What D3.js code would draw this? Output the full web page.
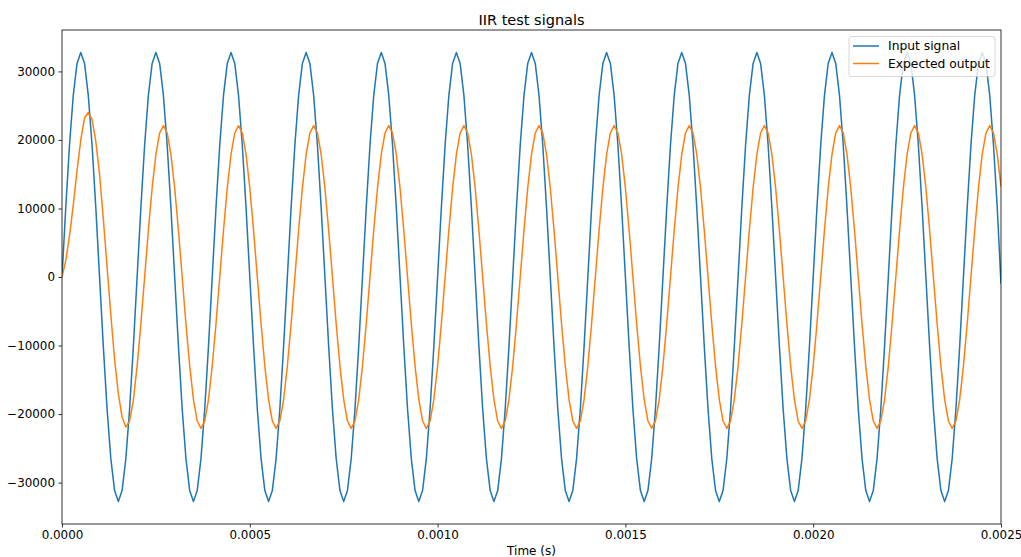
<!DOCTYPE html>
<html>
<head>
<meta charset="utf-8">
<script src="https://cdn.jsdelivr.net/npm/d3@7"></script>
<style>
  body { margin: 0; background: #fff; }
  text { font-family: "DejaVu Sans", sans-serif; }
</style>
</head>
<body>
<div id="chart"></div>
<script>
// Sample rate of the test signals (Hz), sample k is at time k / sampleRate
const sampleRate = 100000;

// Input signal samples, one row per 0.0002 s period
const inputSignal = [
    0, 10126, 19260, 26509, 31163, 32767, 31163, 26509, 19260, 10126, 0, -10126, -19260, -26509, -31163, -32767, -31163, -26509, -19260, -10126,
    0, 10126, 19260, 26509, 31163, 32767, 31163, 26509, 19260, 10126, 0, -10126, -19260, -26509, -31163, -32767, -31163, -26509, -19260, -10126,
    0, 10126, 19260, 26509, 31163, 32767, 31163, 26509, 19260, 10126, 0, -10126, -19260, -26509, -31163, -32767, -31163, -26509, -19260, -10126,
    0, 10126, 19260, 26509, 31163, 32767, 31163, 26509, 19260, 10126, 0, -10126, -19260, -26509, -31163, -32767, -31163, -26509, -19260, -10126,
    0, 10126, 19260, 26509, 31163, 32767, 31163, 26509, 19260, 10126, 0, -10126, -19260, -26509, -31163, -32767, -31163, -26509, -19260, -10126,
    0, 10126, 19260, 26509, 31163, 32767, 31163, 26509, 19260, 10126, 0, -10126, -19260, -26509, -31163, -32767, -31163, -26509, -19260, -10126,
    0, 10126, 19260, 26509, 31163, 32767, 31163, 26509, 19260, 10126, 0, -10126, -19260, -26509, -31163, -32767, -31163, -26509, -19260, -10126,
    0, 10126, 19260, 26509, 31163, 32767, 31163, 26509, 19260, 10126, 0, -10126, -19260, -26509, -31163, -32767, -31163, -26509, -19260, -10126,
    0, 10126, 19260, 26509, 31163, 32767, 31163, 26509, 19260, 10126, 0, -10126, -19260, -26509, -31163, -32767, -31163, -26509, -19260, -10126,
    0, 10126, 19260, 26509, 31163, 32767, 31163, 26509, 19260, 10126, 0, -10126, -19260, -26509, -31163, -32767, -31163, -26509, -19260, -10126,
    0, 10126, 19260, 26509, 31163, 32767, 31163, 26509, 19260, 10126, 0, -10126, -19260, -26509, -31163, -32767, -31163, -26509, -19260, -10126,
    0, 10126, 19260, 26509, 31163, 32767, 31163, 26509, 19260, 10126, 0, -10126, -19260, -26509, -31163, -32767, -31163, -26509, -19260, -10126,
    0, 10126, 19260, 26509, 31163, 32767, 31163, 26509, 19260, 10126, -1000
];

// Expected filter output, first period has the start-up transient
const expectedOutput = [
    0, 2400, 6000, 10500, 15500, 20000, 23200, 24000, 23000, 19800, 15000, 8500, 1500, -5500, -12000, -17000, -20500, -21900, -21000, -18000,
    -12995, -6829, 0, 6829, 12995, 17879, 21017, 22100, 21017, 17879, 12995, 6829, 0, -6829, -12995, -17879, -21017, -22100, -21017, -17879,
    -12995, -6829, 0, 6829, 12995, 17879, 21017, 22100, 21017, 17879, 12995, 6829, 0, -6829, -12995, -17879, -21017, -22100, -21017, -17879,
    -12995, -6829, 0, 6829, 12995, 17879, 21017, 22100, 21017, 17879, 12995, 6829, 0, -6829, -12995, -17879, -21017, -22100, -21017, -17879,
    -12995, -6829, 0, 6829, 12995, 17879, 21017, 22100, 21017, 17879, 12995, 6829, 0, -6829, -12995, -17879, -21017, -22100, -21017, -17879,
    -12995, -6829, 0, 6829, 12995, 17879, 21017, 22100, 21017, 17879, 12995, 6829, 0, -6829, -12995, -17879, -21017, -22100, -21017, -17879,
    -12995, -6829, 0, 6829, 12995, 17879, 21017, 22100, 21017, 17879, 12995, 6829, 0, -6829, -12995, -17879, -21017, -22100, -21017, -17879,
    -12995, -6829, 0, 6829, 12995, 17879, 21017, 22100, 21017, 17879, 12995, 6829, 0, -6829, -12995, -17879, -21017, -22100, -21017, -17879,
    -12995, -6829, 0, 6829, 12995, 17879, 21017, 22100, 21017, 17879, 12995, 6829, 0, -6829, -12995, -17879, -21017, -22100, -21017, -17879,
    -12995, -6829, 0, 6829, 12995, 17879, 21017, 22100, 21017, 17879, 12995, 6829, 0, -6829, -12995, -17879, -21017, -22100, -21017, -17879,
    -12995, -6829, 0, 6829, 12995, 17879, 21017, 22100, 21017, 17879, 12995, 6829, 0, -6829, -12995, -17879, -21017, -22100, -21017, -17879,
    -12995, -6829, 0, 6829, 12995, 17879, 21017, 22100, 21017, 17879, 12995, 6829, 0, -6829, -12995, -17879, -21017, -22100, -21017, -17879,
    -12995, -6829, 0, 6829, 12995, 17879, 21017, 22100, 21017, 17879, 13200
];

// Axis ticks and labels
const xTicks = [0, 0.0005, 0.0010, 0.0015, 0.0020, 0.0025];
const yTicks = [-30000, -20000, -10000, 0, 10000, 20000, 30000];
const seriesNames = ["Input signal", "Expected output"];
const seriesColors = ["#1f77b4", "#ff7f0e"];

// Chart dimensions and margins
const margin = { top: 30, right: 20, bottom: 33, left: 62 };
const width = 1021 - margin.left - margin.right;
const height = 557 - margin.top - margin.bottom;

const svg = d3.select("#chart")
    .append("svg")
    .attr("width", 1021)
    .attr("height", 557);

const g = svg.append("g")
    .attr("transform", "translate(" + margin.left + "," + margin.top + ")");

// Scales (y gets a 5% margin around the data like matplotlib)
const yMax = 32767;
const x = d3.scaleLinear().domain([0, 0.0025]).range([0, width]);
const y = d3.scaleLinear().domain([-yMax * 1.1, yMax * 1.1]).range([height, 0]);

g.append("clipPath").attr("id", "clip")
    .append("rect").attr("width", width).attr("height", height);

const line = d3.line()
    .x((d, i) => x(i / sampleRate))
    .y(d => y(d));

[inputSignal, expectedOutput].forEach((series, i) => {
    g.append("path")
        .datum(series)
        .attr("clip-path", "url(#clip)")
        .attr("fill", "none")
        .attr("stroke", seriesColors[i])
        .attr("stroke-width", 1.5)
        .attr("stroke-linejoin", "round")
        .attr("d", line);
});

// Axes
const xAxis = g.append("g")
    .attr("transform", "translate(0," + height + ")")
    .call(d3.axisBottom(x).tickValues(xTicks).tickFormat(d3.format(".4f")).tickSizeOuter(0).tickSize(3.5).tickPadding(3.5));

const yAxis = g.append("g")
    .call(d3.axisLeft(y).tickValues(yTicks).tickFormat(d => d < 0 ? "\u2212" + Math.abs(d) : d).tickSizeOuter(0).tickSize(3.5).tickPadding(3.5));

[xAxis, yAxis].forEach(a => {
    a.select(".domain").remove();
    a.selectAll("line").attr("stroke", "#000").attr("stroke-width", 0.8);
    a.selectAll("text").attr("fill", "#000").style("font-size", "11.9px").style("font-family", "DejaVu Sans");
});

// Frame around the plot
g.append("rect")
    .attr("width", width).attr("height", height)
    .attr("fill", "none").attr("stroke", "#000").attr("stroke-width", 0.8);

// Title and x label
svg.append("text")
    .attr("x", margin.left + width / 2).attr("y", 25)
    .attr("text-anchor", "middle")
    .style("font-size", "14.5px")
    .text("IIR test signals");

svg.append("text")
    .attr("x", margin.left + width / 2).attr("y", 555)
    .attr("text-anchor", "middle")
    .style("font-size", "12px")
    .text("Time (s)");

// Legend
const legend = g.append("g").attr("transform", "translate(" + (width - 152) + ",6.5)");
legend.append("rect")
    .attr("width", 146).attr("height", 40).attr("rx", 2.5)
    .attr("fill", "#fff").attr("fill-opacity", 0.8)
    .attr("stroke", "#ccc").attr("stroke-width", 0.8);

seriesNames.forEach((name, i) => {
    const ly = 9.5 + i * 17.5;
    legend.append("line")
        .attr("x1", 4).attr("x2", 30).attr("y1", ly).attr("y2", ly)
        .attr("stroke", seriesColors[i]).attr("stroke-width", 1.5);
    legend.append("text")
        .attr("x", 39).attr("y", ly + 4.4)
        .style("font-size", "12.3px")
        .text(name);
});
</script>
</body>
</html>
